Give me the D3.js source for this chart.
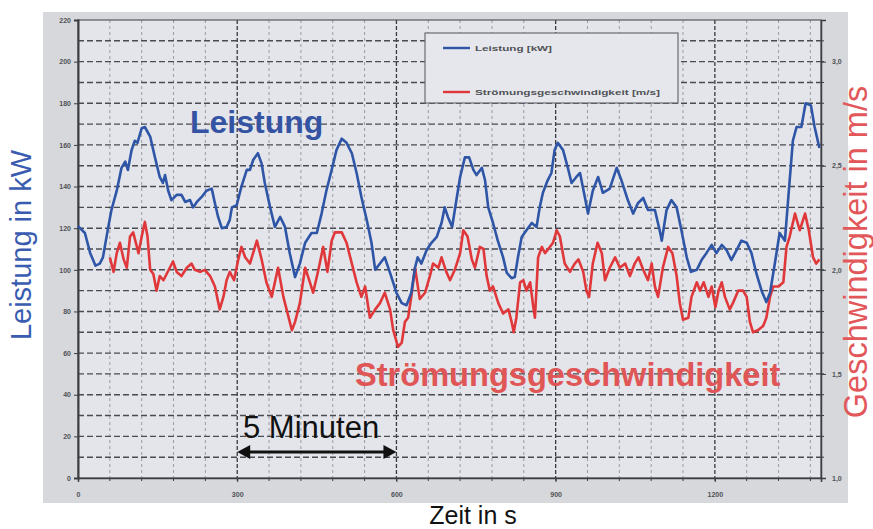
<!DOCTYPE html>
<html>
<head>
<meta charset="utf-8">
<script src="https://cdn.jsdelivr.net/npm/d3@7"></script>
<style>
html,body{margin:0;padding:0;background:#fff;}
svg{display:block;}
text{font-family:"Liberation Sans",Arial,sans-serif;}
</style>
</head>
<body>
<svg id="chart" width="873" height="529"></svg>
<script>
// ---------- DATA ----------
const xTicks = [0, 300, 600, 900, 1200];
const leftTicks = [0, 20, 40, 60, 80, 100, 120, 140, 160, 180, 200, 220];
const rightTicks = [1.0, 1.5, 2.0, 2.5, 3.0];

const leistungT = [0,13,23,33,41,47,57,63,73,82,89,94,101,107,112,120,126,136,145,154,160,164,170,176,186,195,202,211,217,224,233,242,252,258,264,271,280,286,290,299,308,318,324,330,339,346,352,362,371,381,390,399,409,418,428,440,450,459,468,478,487,497,506,516,525,534,544,553,560,569,578,588,600,610,619,628,635,640,647,657,666,676,685,691,697,705,713,720,729,737,745,751,761,767,773,782,791,801,808,817,823,829,836,845,855,864,870,876,885,892,898,904,914,923,930,939,946,955,961,970,980,989,1002,1015,1024,1036,1046,1055,1065,1074,1087,1096,1100,1109,1118,1128,1137,1147,1155,1166,1175,1184,1194,1203,1213,1222,1231,1241,1250,1260,1269,1278,1288,1297,1304,1313,1322,1332,1338,1347,1354,1363,1371,1381,1388,1397];
const leistungKW = [121,117.7,108,102,103,106,120.5,128.7,138,149,152,148,157.5,162,161,168,168.6,164,154,144.6,141.7,145.5,138,133.5,136,136,132.6,133.5,130,132.6,135,138,139,132,125.4,120,120.6,124,130,131,140,148,148,152.7,156,151,141.7,130,120.6,125.4,120.6,108,96.5,103,113,117.7,117.7,127,138,148,157.5,163,161,156,146.5,135,124,113,100,103,106,98.5,89,84,83,89,101,106,103,109.5,113,115.8,122.5,130,125.4,120.6,133.5,144.6,154,154,148,145.5,149,143,130,122.5,114,106,98.5,96,96.5,106,115.8,119,122.5,120.6,130,137,143,146.5,157.5,161,157.5,149,141.7,144.6,146.5,135,127,138,144.6,137,139,149,143,133.5,127,132,134.5,128.7,128.7,119,114,128.7,133.5,130,119,106,99,100,104.7,108,112,108,112,109.5,104.7,109.5,114,113,108,98.5,90,84.5,89,103,117.7,114,133.5,162,168.6,168.6,180,179,168.6,158.5];

const stroemungT = [60,67,73,79,86,92,98,104,114,120,126,131,136,142,148,154,161,167,173,179,186,195,205,214,220,230,239,249,258,267,274,280,286,294,302,308,315,324,337,346,355,365,371,377,387,393,403,409,418,428,437,443,453,462,470,478,484,497,506,516,525,534,541,550,560,569,578,588,594,603,610,616,622,628,635,644,654,663,669,679,685,694,701,710,720,726,734,742,748,757,764,770,776,782,792,801,811,817,821,826,833,839,845,852,858,861,867,874,880,889,895,902,908,917,927,936,943,952,958,963,970,979,987,993,1002,1012,1021,1031,1040,1049,1056,1065,1074,1081,1087,1093,1102,1112,1120,1128,1134,1140,1150,1156,1166,1172,1179,1188,1194,1201,1207,1213,1219,1228,1234,1244,1253,1260,1266,1272,1281,1291,1297,1304,1310,1320,1329,1335,1341,1351,1360,1370,1377,1385,1391,1397];
const stroemungMS = [2.06,1.99,2.08,2.13,2.05,2.01,2.16,2.18,2.08,2.16,2.23,2.16,2.00,1.98,1.90,1.97,1.95,1.98,2.01,2.04,1.99,1.97,2.01,2.03,2.00,1.99,2.00,1.97,1.92,1.81,1.87,1.95,1.99,1.95,2.05,2.11,2.06,2.03,2.14,2.05,1.94,1.87,1.94,2.01,1.87,1.81,1.71,1.75,1.84,2.01,1.94,1.89,2.00,2.11,1.99,2.14,2.18,2.18,2.13,2.03,1.94,1.87,1.92,1.77,1.81,1.84,1.89,1.81,1.71,1.63,1.65,1.75,1.77,1.87,2.01,1.86,1.89,1.97,2.03,2.01,2.06,1.99,1.95,2.00,2.08,2.19,2.16,2.05,2.01,2.11,2.10,1.97,1.90,1.92,1.84,1.79,1.81,1.75,1.70,1.77,1.94,1.95,1.90,1.94,1.82,1.77,2.06,2.11,2.08,2.11,2.13,2.19,2.16,2.03,1.99,2.03,2.05,1.99,1.90,1.87,2.03,2.13,2.08,1.95,2.01,2.06,2.01,2.03,1.97,2.03,2.06,2.00,1.95,2.03,1.92,1.87,2.01,2.11,2.08,1.97,1.84,1.76,1.77,1.87,1.94,1.90,1.94,1.87,1.92,1.82,1.90,1.94,1.87,1.81,1.84,1.90,1.90,1.87,1.75,1.70,1.71,1.73,1.77,1.87,1.92,1.92,1.94,2.11,2.16,2.27,2.19,2.27,2.19,2.06,2.03,2.05];

// ---------- LAYOUT ----------
const svg = d3.select("#chart");
const P = {l: 78, r: 821, t: 20, b: 478};
const x = d3.scaleLinear().domain([0, 1400]).range([P.l, P.r]);
const yL = d3.scaleLinear().domain([0, 220]).range([P.b, P.t]);
const yR = d3.scaleLinear().domain([1.0, 3.2]).range([P.b, P.t]);

const blue = "#2e55a6", red = "#e0383a";

// outer gray panel
svg.append("rect").attr("x", 43).attr("y", 12).attr("width", 805).attr("height", 491).attr("fill", "#d6d8db");
// plot area
svg.append("rect").attr("x", P.l).attr("y", P.t).attr("width", P.r - P.l).attr("height", P.b - P.t).attr("fill", "#e3e5eb");

// vertical grid
const vGrid = d3.range(60, 1400, 60);
svg.append("g").selectAll("line").data(vGrid).join("line")
  .attr("x1", d => x(d)).attr("x2", d => x(d)).attr("y1", P.t).attr("y2", P.b)
  .attr("stroke", d => d % 300 === 0 ? "#3a3a3a" : "#9a9ca2")
  .attr("stroke-width", d => d % 300 === 0 ? 1.3 : 1)
  .attr("stroke-dasharray", d => d % 300 === 0 ? "4,2" : "3,3");

// horizontal grid
const hGrid = d3.range(10, 220, 10);
svg.append("g").selectAll("line").data(hGrid).join("line")
  .attr("x1", P.l).attr("x2", P.r).attr("y1", d => yL(d)).attr("y2", d => yL(d))
  .attr("stroke", "#4a4b50").attr("stroke-width", 1.4).attr("stroke-dasharray", "6,3");

// border
svg.append("rect").attr("x", P.l).attr("y", P.t).attr("width", P.r - P.l).attr("height", P.b - P.t)
  .attr("fill", "none").attr("stroke", "#55575c").attr("stroke-width", 1.2);

// axes
const tickFont = g => g.selectAll("text").attr("font-size", 7).attr("font-weight", "bold").attr("fill", "#505257");
const leftAxis = svg.append("g").attr("transform", `translate(${P.l},0)`)
  .call(d3.axisLeft(yL).tickValues(leftTicks).tickSize(4).tickPadding(3).tickFormat(d3.format("d")));
leftAxis.select(".domain").attr("stroke", "#3c3d42").attr("stroke-width", 2);
leftAxis.selectAll(".tick line").attr("stroke", "#3c3d42");
tickFont(leftAxis);

const rightAxis = svg.append("g").attr("transform", `translate(${P.r},0)`)
  .call(d3.axisRight(yR).tickValues(rightTicks).tickSize(5).tickPadding(6).tickFormat(d => d.toFixed(1).replace(".", ",")));
rightAxis.select(".domain").attr("stroke", "#3c3d42").attr("stroke-width", 1.5);
rightAxis.selectAll(".tick line").attr("stroke", "#3c3d42");
tickFont(rightAxis);
// minor right ticks
svg.append("g").selectAll("line").data(d3.range(1.1, 3.15, 0.1)).join("line")
  .attr("x1", P.r).attr("x2", P.r + 3).attr("y1", d => yR(d)).attr("y2", d => yR(d))
  .attr("stroke", "#3c3d42");

const bottomAxis = svg.append("g").attr("transform", `translate(0,${P.b})`)
  .call(d3.axisBottom(x).tickValues(xTicks).tickSize(4).tickPadding(10).tickFormat(d3.format("d")));
bottomAxis.select(".domain").attr("stroke", "#3c3d42").attr("stroke-width", 1.5);
bottomAxis.selectAll(".tick line").attr("stroke", "#3c3d42");
tickFont(bottomAxis);
svg.append("g").selectAll("line").data(vGrid).join("line")
  .attr("x1", d => x(d)).attr("x2", d => x(d)).attr("y1", P.b).attr("y2", P.b + 3)
  .attr("stroke", "#3c3d42");

// lines
const leistung = leistungT.map((t, i) => [t, leistungKW[i]]);
const stroemung = stroemungT.map((t, i) => [t, stroemungMS[i]]);
svg.append("path").datum(stroemung)
  .attr("d", d3.line().x(d => x(d[0])).y(d => yR(d[1])))
  .attr("fill", "none").attr("stroke", red).attr("stroke-width", 2.6).attr("stroke-linejoin", "round");
svg.append("path").datum(leistung)
  .attr("d", d3.line().x(d => x(d[0])).y(d => yL(d[1])))
  .attr("fill", "none").attr("stroke", blue).attr("stroke-width", 2.6).attr("stroke-linejoin", "round");

// legend
const lg = svg.append("g");
lg.append("rect").attr("x", 425).attr("y", 33).attr("width", 253).attr("height", 70)
  .attr("fill", "#e6e7ec").attr("stroke", "#6a6c72").attr("stroke-width", 1.2);
lg.append("line").attr("x1", 443).attr("x2", 470).attr("y1", 48).attr("y2", 48).attr("stroke", blue).attr("stroke-width", 2.4);
lg.append("line").attr("x1", 443).attr("x2", 470).attr("y1", 92).attr("y2", 92).attr("stroke", red).attr("stroke-width", 2.4);
lg.append("text").attr("x", 475).attr("y", 51).attr("font-size", 8).attr("font-weight", "bold").attr("fill", "#505257")
  .attr("textLength", 77).attr("lengthAdjust", "spacingAndGlyphs").text("Leistung [kW]");
lg.append("text").attr("x", 475).attr("y", 95).attr("font-size", 8).attr("font-weight", "bold").attr("fill", "#505257")
  .attr("textLength", 185).attr("lengthAdjust", "spacingAndGlyphs").text("Strömungsgeschwindigkeit [m/s]");

// annotations
svg.append("text").attr("x", 190).attr("y", 133).attr("font-size", 32).attr("font-weight", "bold").attr("fill", "#3553a3").text("Leistung");
svg.append("text").attr("x", 355).attr("y", 386).attr("font-size", 32.6).attr("font-weight", "bold").attr("fill", "#e05555").text("Strömungsgeschwindigkeit");
svg.append("text").attr("x", 243).attr("y", 438).attr("font-size", 31).attr("fill", "#111").text("5 Minuten");

// double arrow 5 minutes
const ay = 452, ax1 = x(300), ax2 = x(600);
svg.append("line").attr("x1", ax1 + 10).attr("x2", ax2 - 10).attr("y1", ay).attr("y2", ay).attr("stroke", "#111").attr("stroke-width", 3);
svg.append("path").attr("d", `M${ax1},${ay} l13,-7 l0,14 z`).attr("fill", "#111");
svg.append("path").attr("d", `M${ax2},${ay} l-13,-7 l0,14 z`).attr("fill", "#111");

// axis titles
svg.append("text").attr("transform", "translate(31,245) rotate(-90)").attr("text-anchor", "middle")
  .attr("font-size", 29).attr("fill", "#3a5cb0").text("Leistung in kW");
svg.append("text").attr("transform", "translate(867,252) rotate(-90)").attr("text-anchor", "middle")
  .attr("font-size", 32.5).attr("fill", "#e2575a").text("Geschwindigkeit in m/s");
svg.append("text").attr("x", 473).attr("y", 524).attr("text-anchor", "middle")
  .attr("font-size", 25).attr("fill", "#111").text("Zeit in s");
</script>
</body>
</html>
